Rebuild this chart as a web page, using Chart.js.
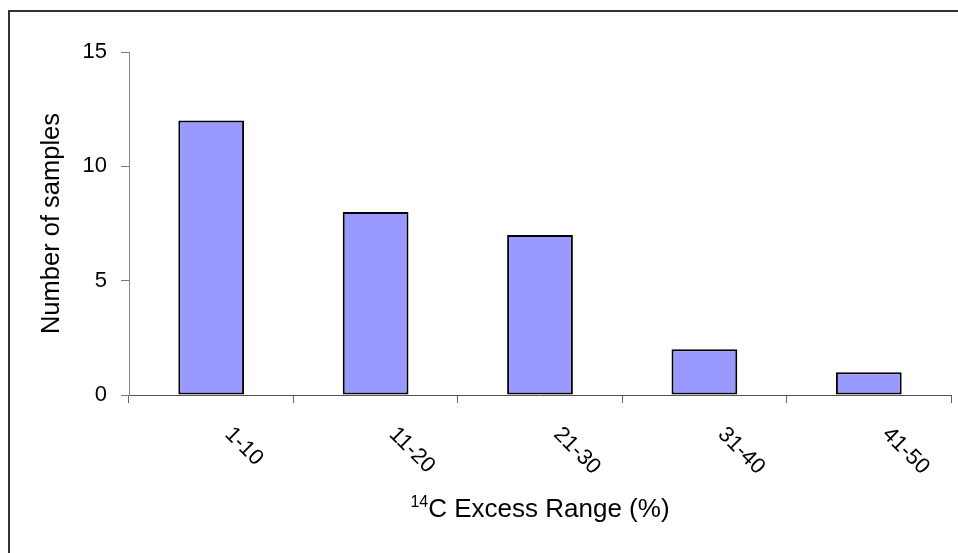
<!DOCTYPE html>
<html>
<head>
<meta charset="utf-8">
<script src="https://cdn.jsdelivr.net/npm/chart.js@4/dist/chart.umd.min.js"></script>
<style>
  html, body { margin: 0; padding: 0; background: #fff; }
  #wrap { width: 958px; height: 553px; }
</style>
</head>
<body>
<div id="wrap"><canvas id="chart"></canvas></div>
<script>
const ranges = [`1-10`, `11-20`, `21-30`, `31-40`, `41-50`];
const sampleCounts = [12, 8, 7, 2, 1];
const yTicks = [0, 5, 10, 15];

const FONT = `"Liberation Sans", Arial, sans-serif`;

// frame lines, rotated category labels and axis titles
const decorations = {
  id: `decorations`,
  beforeDraw(chart) {
    const ctx = chart.ctx;
    ctx.save();
    ctx.strokeStyle = `#333`;
    ctx.lineWidth = 2;
    ctx.beginPath();
    ctx.moveTo(9, 553);
    ctx.lineTo(9, 11);
    ctx.lineTo(958, 11);
    ctx.stroke();
    ctx.restore();
  },
  afterDraw(chart) {
    const ctx = chart.ctx;
    const x = chart.scales.x;
    const area = chart.chartArea;
    ctx.save();
    ctx.fillStyle = `#000`;

    ctx.font = `22px ${FONT}`;
    ctx.textAlign = `left`;
    ctx.textBaseline = `middle`;
    ranges.forEach((label, i) => {
      ctx.save();
      ctx.translate(x.getPixelForValue(i) + 17, area.bottom + 36);
      ctx.rotate(Math.PI / 4);
      ctx.fillText(label, 0, 0);
      ctx.restore();
    });

    // x title with superscript 14
    const mid = (area.left + area.right) / 2;
    const sup = `14`;
    const main = `C Excess Range (%)`;
    ctx.font = `16px ${FONT}`;
    const supW = ctx.measureText(sup).width;
    ctx.font = `26px ${FONT}`;
    const mainW = ctx.measureText(main).width;
    const startX = mid - (supW + mainW) / 2;
    const baseY = 517;
    ctx.textBaseline = `alphabetic`;
    ctx.font = `16px ${FONT}`;
    ctx.fillText(sup, startX, baseY - 10);
    ctx.font = `26px ${FONT}`;
    ctx.fillText(main, startX + supW, baseY);

    // y title
    ctx.save();
    ctx.translate(52, (area.top + area.bottom) / 2);
    ctx.rotate(-Math.PI / 2);
    ctx.textAlign = `center`;
    ctx.textBaseline = `middle`;
    ctx.font = `25.5px ${FONT}`;
    ctx.fillText(`Number of samples`, 0, 0);
    ctx.restore();

    ctx.restore();
  }
};

new Chart(document.getElementById(`chart`), {
  type: `bar`,
  data: {
    labels: ranges,
    datasets: [{
      label: `Number of samples`,
      data: sampleCounts,
      backgroundColor: `#9999FF`,
      borderColor: `#000`,
      borderWidth: 2,
      borderSkipped: false,
      barPercentage: 0.4,
      categoryPercentage: 1
    }]
  },
  options: {
    responsive: true,
    maintainAspectRatio: false,
    animation: false,
    layout: { padding: { left: 9, right: 7, top: 52, bottom: 0 } },
    plugins: {
      legend: { display: false },
      tooltip: { enabled: false }
    },
    scales: {
      x: {
        afterFit(scale) { scale.height = 158; },
        grid: {
          offset: true,
          drawOnChartArea: false,
          tickLength: 8,
          color: `#666`
        },
        border: { color: `#555`, width: 1 },
        ticks: { display: false }
      },
      y: {
        min: 0,
        max: 15,
        afterFit(scale) { scale.width = 120; },
        afterBuildTicks(scale) { scale.ticks = yTicks.map(v => ({ value: v })); },
        grid: {
          drawOnChartArea: false,
          tickLength: 8,
          color: `#777`
        },
        border: { color: `#888`, width: 1 },
        ticks: {
          padding: 14,
          color: `#000`,
          font: { family: FONT, size: 22 }
        }
      }
    }
  },
  plugins: [decorations]
});
</script>
</body>
</html>
